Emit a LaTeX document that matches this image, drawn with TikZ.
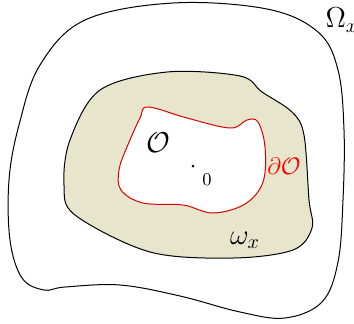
\documentclass[tikz,border=0pt]{standalone}
\usepackage{amsmath, amssymb}
\usepackage{xcolor}
\definecolor{sand}{RGB}{231,230,204}
\usetikzlibrary{positioning}

\begin{document}
\begin{tikzpicture}[
        x=0.5pt, y=-0.5pt,
        region/.style={draw=black, line width=0.5pt},
        hole/.style={draw=red!85!black, fill=white, line width=0.5pt}
    ]
        \useasboundingbox (0,0) rectangle (354,323);
        % outer domain
        \draw[region] plot[smooth cycle, tension=0.6] coordinates {
            (173,3) (267,9) (318,32) (338,70) (344,130) (343,200) (338,262)
            (322,302) (285,318) (240,312) (180,296) (120,285) (65,287) (44,290)
            (22,278) (10,240) (9,180) (19,125) (40,65) (85,20)};
        % shaded band
        \draw[region, fill=sand] plot[smooth cycle, tension=0.55] coordinates {
            (167,72) (240,76) (262,92) (292,112) (304,135) (309,200) (312,228)
            (293,250) (233,258) (150,252) (75,215) (64,185) (70,140) (100,90)};
        % obstacle
        \draw[hole] plot[smooth cycle, tension=0.6] coordinates {
            (148,107) (187,118) (230,128) (247,120) (258,122) (265,147) (263,182)
            (245,204) (213,213) (183,205) (143,203) (121,190) (119,170) (127,147) (140,118)};

        \node[font=\Large] (omega) at (342,20) {$\Omega_x$};
        \node[font=\Large] (band) at (245,240) {$\omega_x$};
        \node[font=\Large] (obst) at (158,143) {$\mathcal{O}$};
        \node[text=red, font=\large] (bdry) at (284,166) {$\partial\mathcal{O}$};
        \fill (193,166) circle (1.5);
        \node[font=\small] (zero) at (207,180) {$0$};
    \end{tikzpicture}
\end{document}
